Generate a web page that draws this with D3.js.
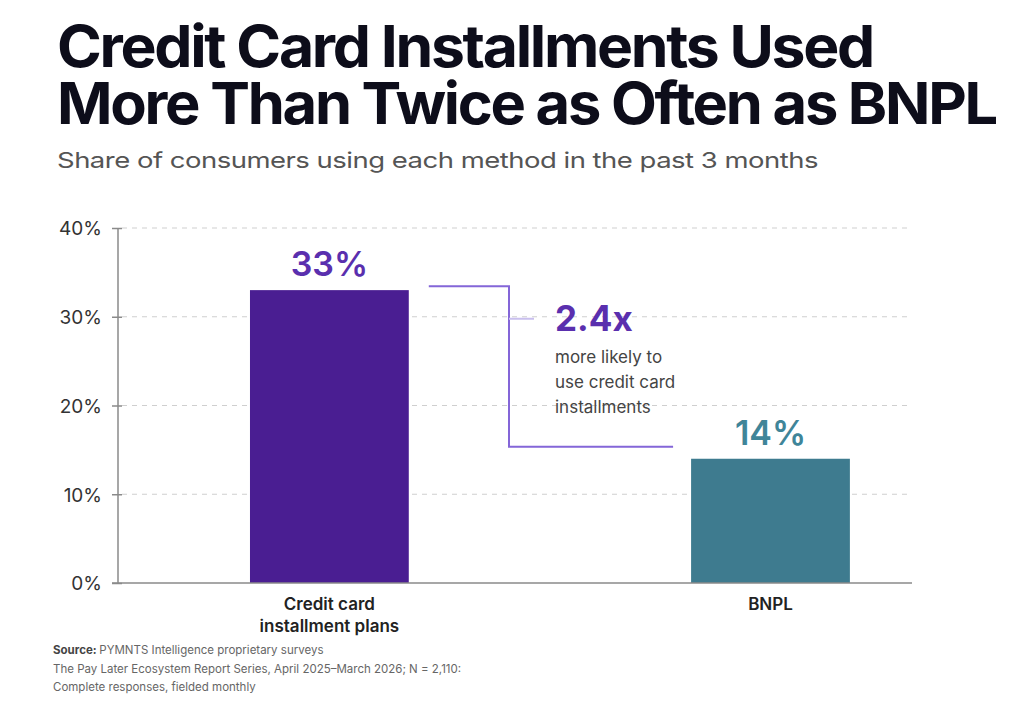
<!DOCTYPE html>
<html>
<head>
<meta charset="utf-8">
<script src="https://cdn.jsdelivr.net/npm/d3@7"></script>
<style>
  html, body { margin: 0; padding: 0; background: #fff; }
  svg { display: block; font-family: Inter, "Open Sans", sans-serif; }
</style>
</head>
<body>
<div id="chart"></div>
<script>
/* Credit card installments vs BNPL — two bars with a ratio callout. */

var categories = ["Credit card\ninstallment plans", "BNPL"];
var shares = [33, 14];
var yTicks = [0, 10, 20, 30, 40];
var ratioLabel = "2.4x";
var ratioNote = ["more likely to", "use credit card", "installments"];
var sourceLines = [
  "PYMNTS Intelligence proprietary surveys",
  "The Pay Later Ecosystem Report Series, April 2025\u2013March 2026; N = 2,110:",
  "Complete responses, fielded monthly"
];

(function () {
  var W = 1024, H = 719;
  var barColors = ["#4a1e92", "#3e7b8f"];
  var labelColors = ["#5a2fae", "#3f8599"];

  var svg = d3.select("#chart").append("svg")
    .attr("width", W).attr("height", H);

  svg.append("rect").attr("width", W).attr("height", H).attr("fill", "#fff");

  // titles
  var title = svg.append("g").attr("fill", "#0d0d1a").attr("font-weight", 700)
    .attr("font-size", 58).attr("letter-spacing", -2.2);
  title.append("text").attr("x", 57).attr("y", 67)
    .attr("textLength", 816).attr("lengthAdjust", "spacingAndGlyphs")
    .text("Credit Card Installments Used");
  title.append("text").attr("x", 57).attr("y", 124)
    .attr("textLength", 939).attr("lengthAdjust", "spacingAndGlyphs")
    .text("More Than Twice as Often as BNPL");

  svg.append("text").attr("x", 57).attr("y", 168)
    .attr("font-size", 22).attr("fill", "#555").attr("letter-spacing", -0.4)
    .attr("textLength", 761).attr("lengthAdjust", "spacingAndGlyphs")
    .text("Share of consumers using each method in the past 3 months");

  // scales
  var pl = 118, pr = 912, pt = 228, pb = 583;
  var y = d3.scaleLinear().domain([0, 40]).range([pb, pt]);
  var x = d3.scaleBand().domain(categories).range([pl, pr])
    .paddingInner(0.64).paddingOuter(0.22).align(0.68);

  // gridlines
  svg.append("g").selectAll("line").data(yTicks.filter(function (t) { return t > 0; }))
    .enter().append("line")
    .attr("x1", pl + 4).attr("x2", pr)
    .attr("y1", function (d) { return y(d); }).attr("y2", function (d) { return y(d); })
    .attr("stroke", "#cfcfcf").attr("stroke-width", 1).attr("stroke-dasharray", "5,5");

  // y axis
  var yAxis = svg.append("g").attr("transform", "translate(" + pl + ",0)")
    .call(d3.axisLeft(y).tickValues(yTicks).tickSize(6)
      .tickFormat(function (d) { return d + "%"; }));
  yAxis.select(".domain").attr("stroke", "#8a8a8a").attr("stroke-width", 1.5)
    .attr("d", "M0," + pt + "V" + pb);
  yAxis.selectAll(".tick line").attr("stroke", "#8a8a8a").attr("stroke-width", 1.5)
    .attr("x1", 4).attr("x2", -6);
  yAxis.selectAll(".tick text").attr("x", -16).attr("dy", "0.36em")
    .attr("font-size", 19).attr("fill", "#333").attr("font-family", "Inter, sans-serif");

  // bars
  svg.append("g").selectAll("rect").data(shares).enter().append("rect")
    .attr("x", function (d, i) { return x(categories[i]); })
    .attr("y", function (d) { return y(d); })
    .attr("width", x.bandwidth())
    .attr("height", function (d) { return y(0) - y(d); })
    .attr("fill", function (d, i) { return barColors[i]; });

  // baseline
  svg.append("line").attr("x1", pl - 6).attr("x2", pr)
    .attr("y1", y(0)).attr("y2", y(0))
    .attr("stroke", "#8a8a8a").attr("stroke-width", 1.5);

  // value labels
  svg.append("g").selectAll("text").data(shares).enter().append("text")
    .attr("x", function (d, i) { return x(categories[i]) + x.bandwidth() / 2; })
    .attr("y", function (d) { return y(d) - 14; })
    .attr("text-anchor", "middle").attr("font-size", 34).attr("font-weight", 600)
    .attr("fill", function (d, i) { return labelColors[i]; })
    .text(function (d) { return d + "%"; });

  // category labels
  var cat = svg.append("g").selectAll("text").data(categories).enter().append("text")
    .attr("x", function (d) { return x(d) + x.bandwidth() / 2; })
    .attr("y", pb + 27)
    .attr("text-anchor", "middle").attr("font-size", 17).attr("font-weight", 600)
    .attr("fill", "#222");
  cat.selectAll("tspan").data(function (d) { return d.split("\n"); }).enter().append("tspan")
    .attr("x", function () { return this.parentNode.getAttribute("x"); })
    .attr("dy", function (d, i) { return i ? 22 : 0; })
    .text(function (d) { return d; });

  // connector between bars
  var x1 = x(categories[0]) + x.bandwidth() + 20;
  var xm = 509;
  var x2 = x(categories[1]) - 18;
  var yA = y(shares[0]) - 4, yB = y(shares[1]) - 12;
  svg.append("path")
    .attr("d", d3.line()([[x1, yA], [xm, yA], [xm, yB], [x2, yB]]))
    .attr("fill", "none").attr("stroke", "#8466d8").attr("stroke-width", 2);
  svg.append("line").attr("x1", xm).attr("x2", xm + 25)
    .attr("y1", y(30) + 2).attr("y2", y(30) + 2)
    .attr("stroke", "#c9bfee").attr("stroke-width", 2);

  // ratio callout
  svg.append("text").attr("x", 555).attr("y", 331)
    .attr("font-size", 35).attr("font-weight", 700).attr("fill", labelColors[0])
    .text(ratioLabel);
  svg.append("g").selectAll("text").data(ratioNote).enter().append("text")
    .attr("x", 555).attr("y", function (d, i) { return 363 + i * 25; })
    .attr("font-size", 17).attr("fill", "#444")
    .text(function (d) { return d; });

  // source
  var src = svg.append("g").attr("font-size", 11.5).attr("fill", "#666");
  var s0 = src.append("text").attr("x", 53).attr("y", 654);
  s0.append("tspan").attr("font-weight", 700).attr("fill", "#444").text("Source: ");
  s0.append("tspan").text(sourceLines[0]);
  src.selectAll("text.more").data(sourceLines.slice(1)).enter().append("text")
    .attr("class", "more").attr("x", 53)
    .attr("y", function (d, i) { return 673 + i * 18; })
    .text(function (d) { return d; });
})();
</script>
</body>
</html>
